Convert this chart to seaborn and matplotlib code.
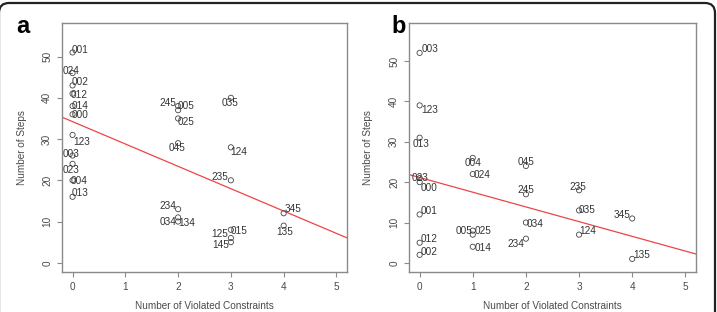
import numpy as np
import pandas as pd
import seaborn as sns
import matplotlib.pyplot as plt
from matplotlib.patches import FancyBboxPatch
from matplotlib.transforms import IdentityTransform

# panel a
a_labels = ["001", "024", "002", "012", "014", "000", "123", "003", "023", "004", "013",
            "245", "005", "025", "045", "234", "034", "134",
            "035", "124", "235", "125", "015", "145",
            "345", "135"]
a_violated = [0, 0, 0, 0, 0, 0, 0, 0, 0, 0, 0,
              2, 2, 2, 2, 2, 2, 2,
              3, 3, 3, 3, 3, 3,
              4, 4]
a_steps = [51, 46, 43, 41, 38, 36, 31, 26, 24, 20, 16,
           37, 38, 35, 29, 13, 11, 10,
           40, 28, 20, 6, 8, 5,
           12, 9]

# panel b
b_labels = ["003", "123", "013", "023", "000", "001", "012", "002",
            "004", "024", "005", "025", "014",
            "045", "245", "034", "234",
            "235", "035", "124",
            "345", "135"]
b_violated = [0, 0, 0, 0, 0, 0, 0, 0,
              1, 1, 1, 1, 1,
              2, 2, 2, 2,
              3, 3, 3,
              4, 4]
b_steps = [52, 39, 31, 21, 20, 12, 5, 2,
           26, 22, 8, 7, 4,
           24, 17, 10, 6,
           18, 13, 7,
           11, 1]

# where each label sits relative to its point (pixels, right / down)
a_label_off = [(8, -2), (-1, -2), (8, -3), (7, 1), (8, 0), (8, 1), (9, 7), (-1, -2), (-1, 6), (7, 1), (8, -4),
               (-10, -7), (8, 0), (8, 4), (-1, 5), (-10, -3), (-10, 5), (9, 1),
               (-1, 5), (8, 5), (-11, -3), (-11, -4), (8, 1), (-10, 3),
               (9, -4), (1, 6)]
b_label_off = [(10, -4), (10, 5), (1, 6), (0, 0), (9, 6), (9, -3), (9, -4), (9, -3),
               (0, 5), (9, 1), (-9, 0), (10, -4), (10, 1),
               (0, -4), (0, -4), (9, 1), (-10, 5),
               (-1, -3), (8, 0), (9, -4),
               (-10, -3), (9, -4)]

sns.set_style("white")
plt.rcParams['font.family'] = ['Liberation Sans', 'DejaVu Sans']

W, H = 717, 312
fig = plt.figure(figsize=(W / 100, H / 100), dpi=100)

axis_grey = "#8a8a8a"
text_grey = "#4a4a4a"


def panel(rect, labels, xs, ys, offs, ylim, letter, letter_x, ylab_x):
    x0, y0, x1, y1 = rect
    ax = fig.add_axes([x0 / W, 1 - y1 / H, (x1 - x0) / W, (y1 - y0) / H])
    df = pd.DataFrame({"violated": xs, "steps": ys, "label": labels})
    sns.scatterplot(data=df, x="violated", y="steps", ax=ax, marker="o", s=14,
                    facecolor="none", edgecolor="#444444", linewidth=0.6, zorder=3)
    for (lab, x, y), (dx, dy) in zip(zip(labels, xs, ys), offs):
        ax.annotate(lab, (x, y), xytext=(dx, -dy), textcoords="offset pixels",
                    ha="center", va="center", fontsize=7.2, color="#333333", zorder=4)
    xlim = (-0.2, 5.2)
    slope, icpt = np.polyfit(xs, ys, 1)
    xx = np.array(xlim)
    ax.plot(xx, icpt + slope * xx, color="#ee4444", lw=0.9, zorder=2)
    ax.set_xlim(*xlim)
    ax.set_ylim(*ylim)
    ax.set_xticks([0, 1, 2, 3, 4, 5])
    ax.set_yticks([0, 10, 20, 30, 40, 50])
    for s in ax.spines.values():
        s.set_color(axis_grey)
        s.set_linewidth(1.0)
    ax.tick_params(axis="both", direction="out", length=3.6, width=0.8, color=axis_grey,
                   labelsize=7.2, labelcolor=text_grey, pad=3.5, bottom=True, left=True)
    for t in ax.get_yticklabels():
        t.set_rotation(90)
        t.set_va("center")
    ax.set_xlabel("Number of Violated Constraints", fontsize=7.2, color=text_grey)
    ax.set_ylabel("Number of Steps", fontsize=7.2, color=text_grey)
    ax.xaxis.set_label_coords(0.5, (y1 - 301) / (y1 - y0))
    ax.yaxis.set_label_coords((ylab_x - x0) / (x1 - x0), 0.5)
    fig.text(letter_x / W, 1 - 33 / H, letter, fontsize=17, fontweight="bold", va="baseline", color="black")
    return ax


panel((62, 22.6, 347, 272), a_labels, a_violated, a_steps, a_label_off, (-2.24, 58.24), "a", 16, 27)
panel((409, 22.6, 696, 272), b_labels, b_violated, b_steps, b_label_off, (-2.25, 59.5), "b", 391, 373)

# rounded frame of the original figure; left and bottom edges fall just outside the image
frame = FancyBboxPatch((-1, -30), 716, 309 + 30, boxstyle="round,pad=0,rounding_size=10",
                       transform=IdentityTransform(), facecolor="none", edgecolor="#222222", lw=1.6)
fig.patches.append(frame)

fig.savefig("out.png", dpi=100)
